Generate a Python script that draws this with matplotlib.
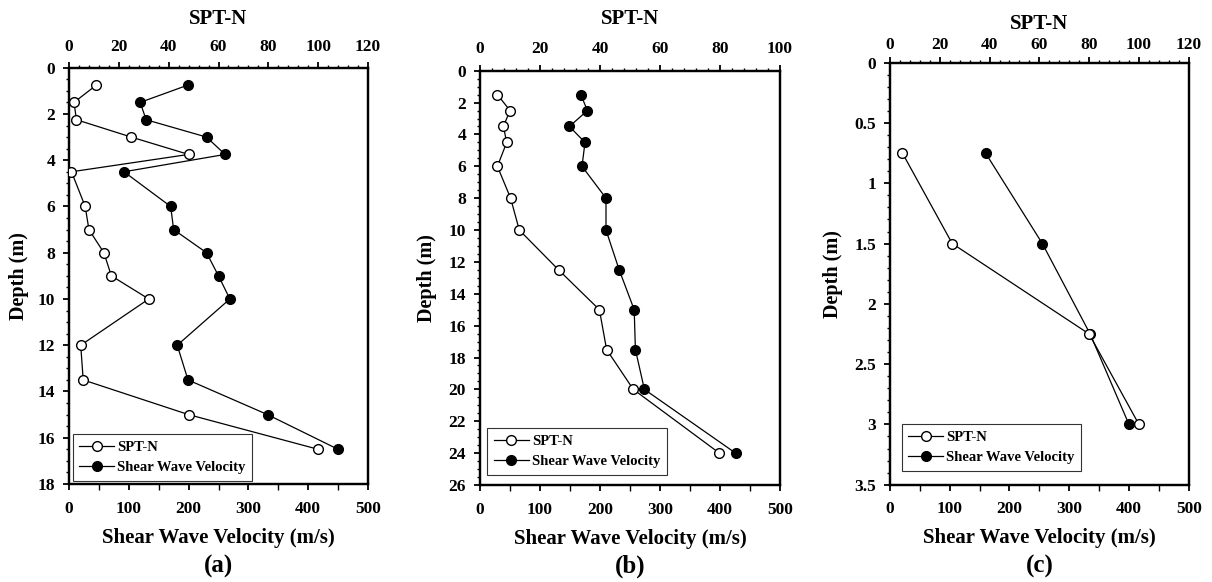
import matplotlib
matplotlib.use("Agg")
import matplotlib.pyplot as plt
from matplotlib.ticker import MultipleLocator

plt.rcParams['font.family'] = ['Liberation Serif', 'DejaVu Serif']
plt.rcParams['font.weight'] = 'bold'

# ---------------- data ----------------
# Panel (a)
depth_spt_a = [0.75, 1.5, 2.25, 3.0, 3.75, 4.5, 6.0, 7.0, 8.0, 9.0, 10.0, 12.0, 13.5, 15.0, 16.5]
spt_a = [11, 2, 3, 25, 48, 1, 6.5, 8, 14, 17, 32, 4.7, 5.7, 48, 100]
depth_vs_a = [0.75, 1.5, 2.25, 3.0, 3.75, 4.5, 6.0, 7.0, 8.0, 9.0, 10.0, 12.0, 13.5, 15.0, 16.5]
vs_a = [199, 119, 129, 230, 261, 92, 170, 175, 230, 250, 269, 181, 199, 332, 450]

# Panel (b)
depth_spt_b = [1.5, 2.5, 3.5, 4.5, 6.0, 8.0, 10.0, 12.5, 15.0, 17.5, 20.0, 24.0]
spt_b = [5.8, 10, 7.8, 8.9, 5.8, 10.2, 13.1, 26.2, 39.8, 42.2, 51.1, 79.8]
depth_vs_b = [1.5, 2.5, 3.5, 4.5, 6.0, 8.0, 10.0, 12.5, 15.0, 17.5, 20.0, 24.0]
vs_b = [168, 179, 149, 175, 170, 210, 210, 232, 257, 259, 274, 426]

# Panel (c)
depth_spt_c = [0.75, 1.5, 2.25, 3.0]
spt_c = [5, 25, 80, 100]
depth_vs_c = [0.75, 1.5, 2.25, 3.0]
vs_c = [160, 255, 335, 400]

panel_labels = ['(a)', '(b)', '(c)']
spt_max = [120, 100, 120]
depth_max = [18, 26, 3.5]
depth_major = [2, 2, 0.5]
depth_minor = [0.5, 0.5, 0.1]

# ---------------- layout (pixels) ----------------
W, H = 1212, 582
boxes = [(69, 368, 67.7, 484), (480, 780, 70.7, 485), (890, 1188.7, 62.7, 484.7)]
legend_off = [(3.7, 3.3), (7.3, 10), (11.7, 14)]
top_pad = [5, 6, 3]
title_pad = [11, 12, 6]

fig = plt.figure(figsize=(W / 100, H / 100), dpi=100)

data = [
    (depth_spt_a, spt_a, depth_vs_a, vs_a),
    (depth_spt_b, spt_b, depth_vs_b, vs_b),
    (depth_spt_c, spt_c, depth_vs_c, vs_c),
]

for i, (l, r, t, b) in enumerate(boxes):
    ax = fig.add_axes([l / W, (H - b) / H, (r - l) / W, (b - t) / H])
    ax2 = ax.twiny()
    dsp, sp, dvs, vs = data[i]

    hv, = ax.plot(vs, dvs, '-o', color='black', lw=0.9, ms=7,
                  mfc='black', mec='black', label='Shear Wave Velocity', zorder=3)
    hs, = ax2.plot(sp, dsp, '-o', color='black', lw=0.9, ms=7,
                   mfc='white', mec='black', mew=1.0, label='SPT-N', zorder=4)

    ax.set_xlim(0, 500)
    ax2.set_xlim(0, spt_max[i])
    ax.set_ylim(depth_max[i], 0)

    ax.xaxis.set_major_locator(MultipleLocator(100))
    ax.xaxis.set_minor_locator(MultipleLocator(50))
    ax2.xaxis.set_major_locator(MultipleLocator(20))
    ax2.xaxis.set_minor_locator(MultipleLocator(4))
    ax.yaxis.set_major_locator(MultipleLocator(depth_major[i]))
    ax.yaxis.set_minor_locator(MultipleLocator(depth_minor[i]))
    if i == 2:
        ax.yaxis.set_major_formatter(plt.FuncFormatter(lambda v, p: ('%g' % v)))

    for a in (ax, ax2):
        for s in a.spines.values():
            s.set_linewidth(1.6)
        a.tick_params(which='major', direction='out', length=4, width=1.3,
                      labelsize=12.5, pad=5)
        a.tick_params(which='minor', direction='out', length=2.5, width=1.0)
    ax.tick_params(axis='x', which='minor', length=4)
    ax.tick_params(axis='x', which='major', pad=8)
    ax.tick_params(axis='y', which='major', pad=6)
    ax2.tick_params(axis='x', which='major', pad=top_pad[i])
    for lab in ax.get_xticklabels() + ax.get_yticklabels() + ax2.get_xticklabels():
        lab.set_fontweight('bold')

    ax.set_xlabel('Shear Wave Velocity (m/s)', fontsize=15, fontweight='bold', labelpad=8)
    ax2.set_xlabel('SPT-N', fontsize=15, fontweight='bold', labelpad=title_pad[i])
    ax.set_ylabel('Depth (m)', fontsize=14.5, fontweight='bold', labelpad=6 if i == 0 else 8)

    ox, oy = legend_off[i]
    leg = ax2.legend(handles=[hs, hv], loc='lower left',
                     bbox_to_anchor=(ox / (r - l), oy / (b - t)),
                     borderaxespad=0, frameon=True, fancybox=False,
                     edgecolor='black', handlelength=2.4,
                     handletextpad=0.2, labelspacing=0.5, borderpad=0.45,
                     prop={'weight': 'bold', 'size': 10.5})
    leg.get_frame().set_linewidth(0.8)

    fig.text((l + r) / 2 / W, 1 - 566 / H, panel_labels[i], ha='center', va='center',
             fontsize=18, fontweight='bold')

fig.savefig('out.png', dpi=100)
